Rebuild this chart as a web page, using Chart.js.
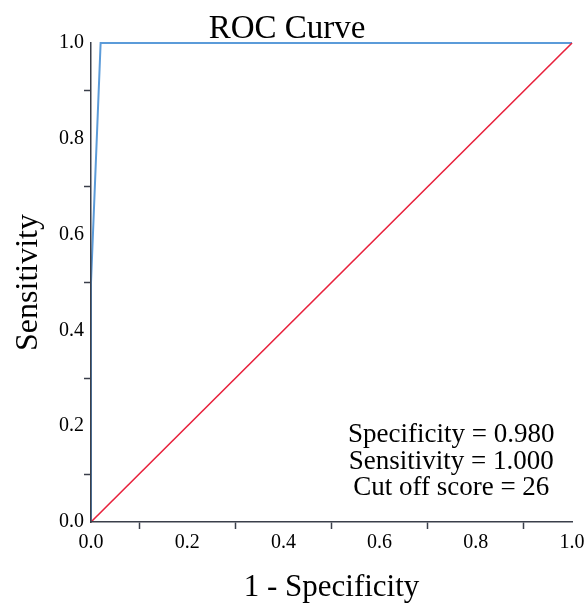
<!DOCTYPE html>
<html>
<head>
<meta charset="utf-8">
<script src="https://cdn.jsdelivr.net/npm/chart.js@4"></script>
<style>
html,body{margin:0;padding:0;background:#fff;}
#wrap{width:587px;height:603px;}
</style>
</head>
<body>
<div id="wrap"><canvas id="c" width="587" height="603"></canvas></div>
<script>
const rocX = [0, 0, 0.02, 1];
const rocY = [0, 0.5, 1, 1];
const refX = [0, 1];
const refY = [0, 1];
const chartTitle = 'ROC Curve';
const xTitle = '1 - Specificity';
const yTitle = 'Sensitivity';
const statLines = ['Specificity = 0.980', 'Sensitivity = 1.000', 'Cut off score = 26'];

const SERIF = '"Liberation Serif", "Times New Roman", serif';
const AXIS = '#3a3f4a';

const toPts = (xs, ys) => xs.map((x, i) => ({x: x, y: ys[i]}));
const isOddTenth = v => Math.round(v * 10) % 2 === 1;

const textPlugin = {
  id: 'texts',
  afterDraw(chart) {
    const ctx = chart.ctx;
    const a = chart.chartArea;
    ctx.save();
    ctx.fillStyle = '#000';
    ctx.textBaseline = 'alphabetic';
    ctx.textAlign = 'center';
    ctx.font = '33px ' + SERIF;
    ctx.fillText(chartTitle, 287, a.top - 5);
    ctx.font = '27px ' + SERIF;
    const cx = a.left + (a.right - a.left) * 0.749;
    statLines.forEach((t, i) => {
      ctx.fillText(t, cx, a.bottom - 80 + i * 26.5);
    });
    ctx.restore();
  }
};

const gridCfg = {
  drawOnChartArea: false,
  drawTicks: true,
  tickLength: 7,
  tickWidth: 1.5,
  tickColor: c => (c.tick && isOddTenth(c.tick.value)) ? AXIS : 'rgba(0,0,0,0)'
};

new Chart(document.getElementById('c'), {
  type: 'scatter',
  data: {
    datasets: [
      {
        data: toPts(refX, refY),
        showLine: true,
        borderColor: '#e8213c',
        borderWidth: 1.6,
        pointRadius: 0,
        clip: false
      },
      {
        data: toPts(rocX, rocY),
        showLine: true,
        borderColor: '#5b9bd9',
        borderWidth: 2,
        pointRadius: 0,
        clip: false
      }
    ]
  },
  options: {
    responsive: false,
    animation: false,
    devicePixelRatio: 1,
    layout: {padding: {top: 43, right: 15, left: 0, bottom: 0}},
    plugins: {legend: {display: false}, tooltip: {enabled: false}, title: {display: false}},
    scales: {
      x: {
        type: 'linear',
        min: 0, max: 1,
        afterFit: s => { s.height = 81; },
        border: {display: true, color: AXIS, width: 1.5, z: 1},
        grid: gridCfg,
        ticks: {
          stepSize: 0.1,
          autoSkip: false,
          maxRotation: 0,
          padding: 2,
          color: '#000',
          font: {family: SERIF, size: 20},
          callback: v => isOddTenth(v) ? '' : v.toFixed(1)
        },
        title: {
          display: true,
          text: xTitle,
          color: '#000',
          font: {family: SERIF, size: 31, lineHeight: 1},
          padding: {top: 0, bottom: 0}
        }
      },
      y: {
        type: 'linear',
        min: 0, max: 1,
        afterFit: s => { s.width = 91; },
        border: {display: true, color: AXIS, width: 1.5, z: 1},
        grid: gridCfg,
        ticks: {
          stepSize: 0.1,
          autoSkip: false,
          padding: 0,
          color: '#000',
          font: {family: SERIF, size: 20},
          callback: v => isOddTenth(v) ? '' : v.toFixed(1)
        },
        title: {
          display: true,
          text: yTitle,
          color: '#000',
          font: {family: SERIF, size: 32, lineHeight: 1},
          padding: {top: 13, bottom: 0}
        }
      }
    }
  },
  plugins: [textPlugin]
});
</script>
</body>
</html>
